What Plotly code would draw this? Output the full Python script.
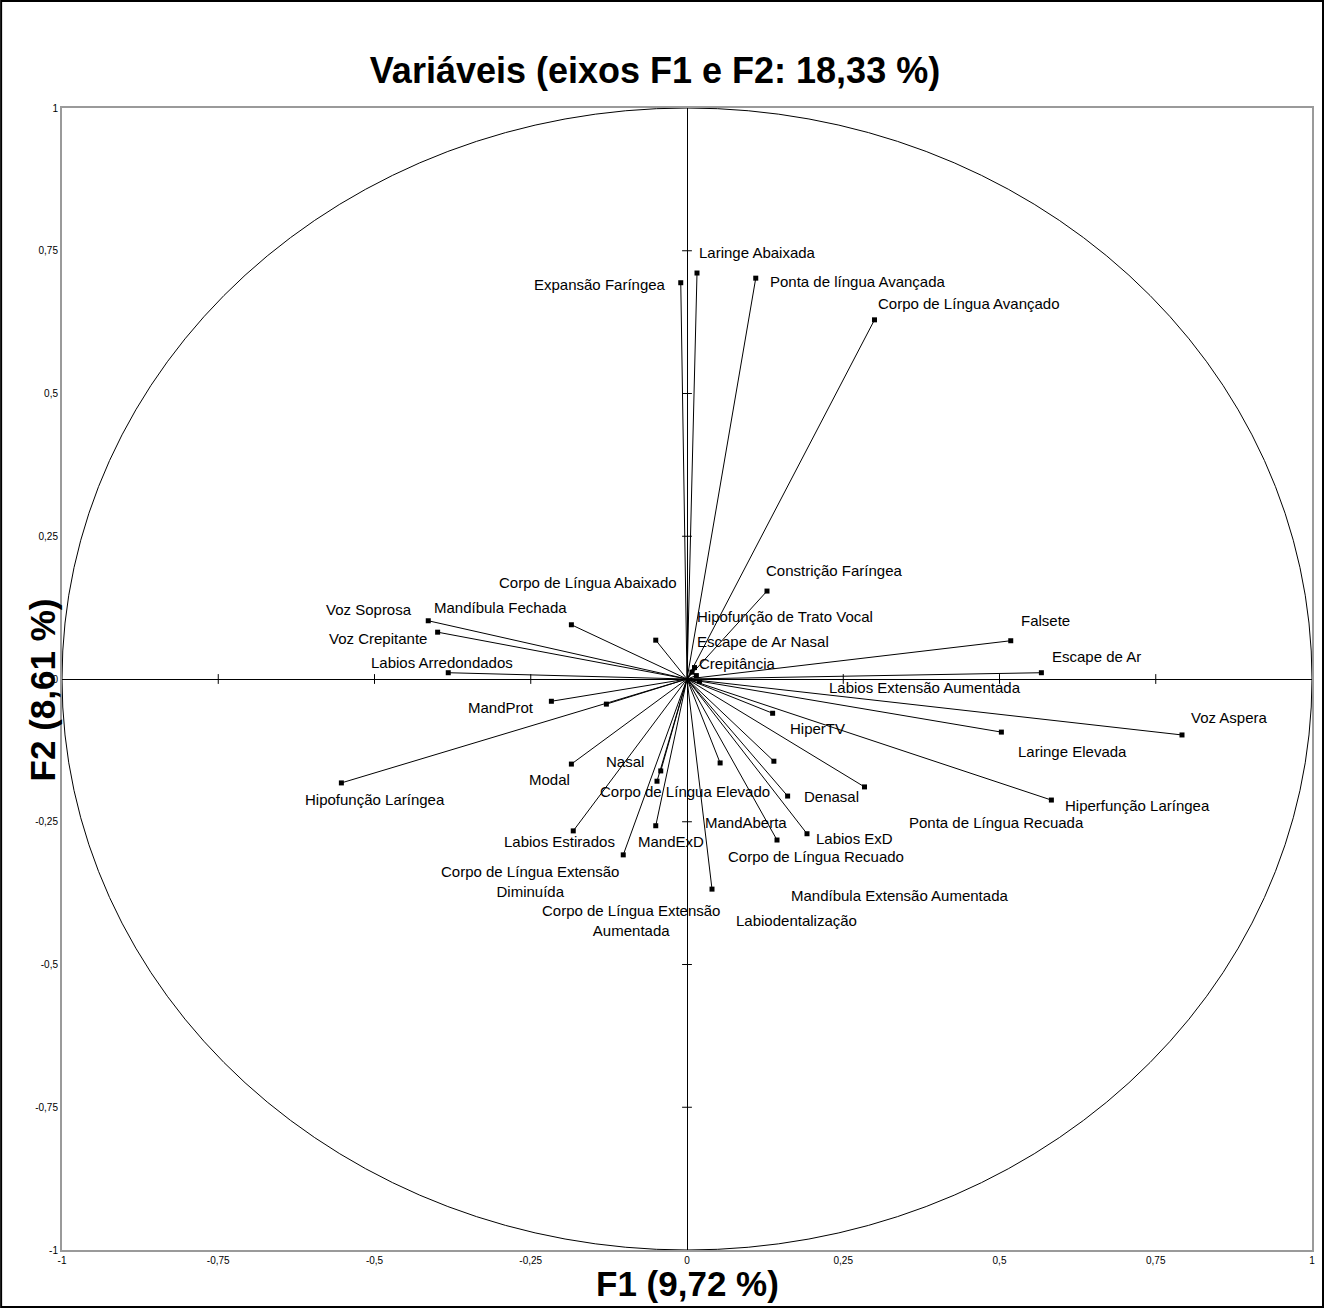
import plotly.graph_objects as go

# Correlation circle: variable loadings on the first two factors
variables = [
    "Expansão Faríngea", "Laringe Abaixada", "Ponta de língua Avançada",
    "Corpo de Língua Avançado", "Constrição Faríngea", "Corpo de Língua Abaixado",
    "Hipofunção de Trato Vocal", "Escape de Ar Nasal", "Crepitância",
    "Falsete", "Escape de Ar", "Labios Extensão Aumentada",
    "Voz Soprosa", "Mandíbula Fechada", "Voz Crepitante",
    "Labios Arredondados", "MandProt", "HiperTV",
    "Voz Aspera", "Laringe Elevada", "Hipofunção Laríngea",
    "Modal", "Nasal", "Corpo de Língua Elevado",
    "Denasal", "Hiperfunção Laríngea", "Ponta de Língua Recuada",
    "Labios Estirados", "MandExD", "MandAberta",
    "Labios ExD", "Corpo de Língua Recuado", "Corpo de Língua Extensão<br>Diminuída",
    "Mandíbula Extensão Aumentada", "Corpo de Língua Extensão<br>Aumentada", "Labiodentalização",
]
f1 = [
    -0.010, 0.016, 0.110,
    0.300, 0.128, -0.050,
    0.012, 0.008, 0.015,
    0.518, 0.567, 0.020,
    -0.414, -0.185, -0.399,
    -0.382, -0.217, 0.137,
    0.792, 0.503, -0.553,
    -0.185, -0.042, -0.048,
    0.161, 0.583, 0.284,
    -0.182, -0.050, 0.053,
    0.192, 0.144, -0.102,
    0.139, -0.129, 0.040,
]
f2 = [
    0.694, 0.711, 0.702,
    0.629, 0.154, 0.068,
    0.020, 0.012, 0.006,
    0.067, 0.011, -0.004,
    0.102, 0.095, 0.082,
    0.011, -0.039, -0.060,
    -0.098, -0.093, -0.182,
    -0.149, -0.161, -0.179,
    -0.205, -0.212, -0.189,
    -0.266, -0.257, -0.147,
    -0.271, -0.282, -0.308,
    -0.144, -0.044, -0.368,
]
tick_values = [-1, -0.75, -0.5, -0.25, 0, 0.25, 0.5, 0.75, 1]
tick_labels = ["-1", "-0,75", "-0,5", "-0,25", "0", "0,25", "0,5", "0,75", "1"]
inner_ticks = [-0.75, -0.5, -0.25, 0.25, 0.5, 0.75]

# label placement: anchor, horizontal and vertical pixel offsets (down is positive)
label_place = [
    ("right", -13, 2), ("left", 0, -21), ("left", 12, 3),
    ("left", 1, -16), ("left", -3, -21), ("right", 23, -58),
    ("left", 0, -51), ("left", 3, -31), ("left", 1, -12),
    ("left", 8, -20), ("left", 9, -16), ("left", 127, 6),
    ("right", -14, -11), ("right", -2, -17), ("right", -9, 6),
    ("center", -6, -10), ("right", -15, 6), ("left", 15, 15),
    ("left", 7, -17), ("left", 15, 19), ("center", 34, 17),
    ("right", 1, 15), ("right", -15, -9), ("left", -59, 10),
    ("left", 14, 0), ("left", 12, 5), ("left", 42, 36),
    ("right", 44, 11), ("left", -20, 16), ("left", -17, 60),
    ("left", 7, 5), ("left", -51, 16), ("center", -93, 27),
    ("left", 15, 134), ("center", 25, 216), ("left", 22, 31),
]

FONT = "Arial, 'Liberation Sans', sans-serif"

fig = go.Figure()

# vectors from the origin
vx, vy = [], []
for a, b in zip(f1, f2):
    vx += [0, a, None]
    vy += [0, b, None]
fig.add_trace(go.Scatter(x=vx, y=vy, mode="lines",
                         line=dict(color="black", width=1), hoverinfo="skip"))
fig.add_trace(go.Scatter(x=f1, y=f2, mode="markers", text=variables,
                         marker=dict(symbol="square", size=5, color="black")))

# small tick marks along the central axes
fig.add_trace(go.Scatter(x=inner_ticks, y=[0] * len(inner_ticks), mode="markers",
                         marker=dict(symbol="line-ns", size=7,
                                     line=dict(color="black", width=1)),
                         hoverinfo="skip"))
fig.add_trace(go.Scatter(x=[0] * len(inner_ticks), y=inner_ticks, mode="markers",
                         marker=dict(symbol="line-ew", size=7,
                                     line=dict(color="black", width=1)),
                         hoverinfo="skip"))

# unit circle
fig.add_shape(type="circle", xref="x", yref="y", x0=-1, y0=-1, x1=1, y1=1,
              line=dict(color="black", width=1), layer="below")

for name, a, b, (anchor, dx, dy) in zip(variables, f1, f2, label_place):
    fig.add_annotation(x=a, y=b, xref="x", yref="y", text=name, showarrow=False,
                       xanchor=anchor, yanchor="middle", xshift=dx, yshift=-dy,
                       align="center", font=dict(family=FONT, size=15, color="black"))

# axis titles
fig.add_annotation(x=0.5, y=-0.029, xref="paper", yref="paper",
                   text="<b>F1 (9,72 %)</b>", showarrow=False,
                   xanchor="center", yanchor="middle",
                   font=dict(family=FONT, size=35, color="black"))
fig.add_annotation(x=-0.016, y=0.49, xref="paper", yref="paper",
                   text="<b>F2 (8,61 %)</b>", showarrow=False, textangle=-90,
                   xanchor="center", yanchor="middle",
                   font=dict(family=FONT, size=35, color="black"))

# outer chart border
fig.add_shape(type="rect", xref="paper", yref="paper",
              x0=-0.0487, x1=1.0088, y0=-0.0499, y1=1.0937,
              line=dict(color="black", width=2))

axis_common = dict(range=[-1, 1], tickvals=tick_values, ticktext=tick_labels,
                   showgrid=False, zeroline=True, zerolinecolor="black",
                   zerolinewidth=1, showline=True, mirror=True,
                   linecolor="#9a9a9a", linewidth=2, ticks="",
                   tickfont=dict(family=FONT, size=10, color="black"))

fig.update_layout(
    width=1327, height=1309,
    margin=dict(l=62, r=13, t=108, b=59),
    paper_bgcolor="white", plot_bgcolor="white",
    showlegend=False,
    title=dict(text="<b>Variáveis (eixos F1 e F2: 18,33 %)</b>",
               x=0.4936, xanchor="center", y=0.9465, yanchor="middle",
               font=dict(family=FONT, size=36, color="black")),
    xaxis=dict(**axis_common),
    yaxis=dict(**axis_common),
)

fig.write_html("out.html")
